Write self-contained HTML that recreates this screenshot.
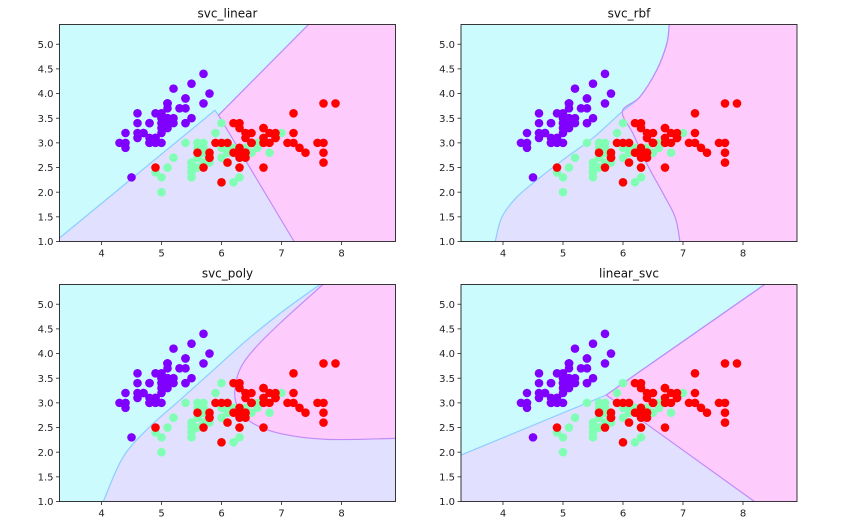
<!DOCTYPE html>
<html><head><meta charset="utf-8"><style>
html,body{margin:0;padding:0;background:#fff;}
svg{display:block;font-family:"DejaVu Sans","Liberation Sans",sans-serif;}
</style></head><body>
<svg id="fig" width="855" height="532" viewBox="0 0 855 532" xmlns="http://www.w3.org/2000/svg"></svg>
<script>
const setosa=[[5.1,3.5],[4.9,3.0],[4.7,3.2],[4.6,3.1],[5.0,3.6],[5.4,3.9],[4.6,3.4],[5.0,3.4],[4.4,2.9],[4.9,3.1],[5.4,3.7],[4.8,3.4],[4.8,3.0],[4.3,3.0],[5.8,4.0],[5.7,4.4],[5.4,3.9],[5.1,3.5],[5.7,3.8],[5.1,3.8],[5.4,3.4],[5.1,3.7],[4.6,3.6],[5.1,3.3],[4.8,3.4],[5.0,3.0],[5.0,3.4],[5.2,3.5],[5.2,3.4],[4.7,3.2],[4.8,3.1],[5.4,3.4],[5.2,4.1],[5.5,4.2],[4.9,3.1],[5.0,3.2],[5.5,3.5],[4.9,3.6],[4.4,3.0],[5.1,3.4],[5.0,3.5],[4.5,2.3],[4.4,3.2],[5.0,3.5],[5.1,3.8],[4.8,3.0],[5.1,3.8],[4.6,3.2],[5.3,3.7],[5.0,3.3]];
const versicolor=[[7.0,3.2],[6.4,3.2],[6.9,3.1],[5.5,2.3],[6.5,2.8],[5.7,2.8],[6.3,3.3],[4.9,2.4],[6.6,2.9],[5.2,2.7],[5.0,2.0],[5.9,3.0],[6.0,2.2],[6.1,2.9],[5.6,2.9],[6.7,3.1],[5.6,3.0],[5.8,2.7],[6.2,2.2],[5.6,2.5],[5.9,3.2],[6.1,2.8],[6.3,2.5],[6.1,2.8],[6.4,2.9],[6.6,3.0],[6.8,2.8],[6.7,3.0],[6.0,2.9],[5.7,2.6],[5.5,2.4],[5.5,2.4],[5.8,2.7],[6.0,2.7],[5.4,3.0],[6.0,3.4],[6.7,3.1],[6.3,2.3],[5.6,3.0],[5.5,2.5],[5.5,2.6],[6.1,3.0],[5.8,2.6],[5.0,2.3],[5.6,2.7],[5.7,3.0],[5.7,2.9],[6.2,2.9],[5.1,2.5],[5.7,2.8]];
const virginica=[[6.3,3.3],[5.8,2.7],[7.1,3.0],[6.3,2.9],[6.5,3.0],[7.6,3.0],[4.9,2.5],[7.3,2.9],[6.7,2.5],[7.2,3.6],[6.5,3.2],[6.4,2.7],[6.8,3.0],[5.7,2.5],[5.8,2.8],[6.4,3.2],[6.5,3.0],[7.7,3.8],[7.7,2.6],[6.0,2.2],[6.9,3.2],[5.6,2.8],[7.7,2.8],[6.3,2.7],[6.7,3.3],[7.2,3.2],[6.2,2.8],[6.1,3.0],[6.4,2.8],[7.2,3.0],[7.4,2.8],[7.9,3.8],[6.4,2.8],[6.3,2.8],[6.1,2.6],[7.7,3.0],[6.3,3.4],[6.4,3.1],[6.0,3.0],[6.9,3.1],[6.7,3.1],[6.9,3.1],[5.8,2.7],[6.8,3.2],[6.7,3.3],[6.7,3.0],[6.3,2.5],[6.5,3.0],[6.2,3.4],[5.9,3.0]];
const xTicks=[4,5,6,7,8];
const yTicks=[1.0,1.5,2.0,2.5,3.0,3.5,4.0,4.5,5.0];
const titles=["svc_linear","svc_rbf","svc_poly","linear_svc"];
const smoothFlags=[false,true,true,false];
const cyanEdges=[
 [[3.3,1.07],[5.89,3.66],[5.95,3.56],[7.45,5.4]],
 [[3.87,1.0],[3.98,1.49],[4.23,1.90],[4.62,2.30],[5.06,2.71],[5.51,3.11],[5.99,3.64],[6.28,3.93],[6.56,4.47],[6.73,5.01],[6.77,5.4]],
 [[4.03,1.0],[4.36,1.90],[4.80,2.51],[5.30,3.05],[5.86,3.66],[6.42,4.27],[6.97,4.81],[7.64,5.4]],
 [[3.3,1.94],[5.72,3.16],[8.36,5.4]]
];
const pinkEdges=[
 [[7.45,5.4],[5.95,3.56],[7.21,1.0]],
 [[6.77,5.4],[6.73,5.01],[6.56,4.47],[6.28,3.93],[5.99,3.64],[6.17,3.18],[6.40,2.57],[6.67,1.97],[6.87,1.49],[6.95,1.0]],
 [[7.69,5.4],[6.97,4.61],[6.53,4.07],[6.30,3.66],[6.22,3.19],[6.30,2.85],[6.53,2.58],[6.97,2.38],[7.75,2.26],[8.9,2.28]],
 [[8.36,5.4],[5.72,3.16],[8.19,1.0]]
];
const pinkClose=[[[8.9,1.0],[8.9,5.4]],[[8.9,1.0],[8.9,5.4]],[[8.9,5.4]],[[8.9,1.0],[8.9,5.4]]];
const XMIN=3.3,XMAX=8.9,YMIN=1.0,YMAX=5.4;
const panels=[[59.5,24.5],[461,24.5],[59.5,284.5],[461,284.5]];
const PW=336,PH=217;
const NS="http://www.w3.org/2000/svg";
const fig=document.getElementById('fig');
function mk(tag,attrs,parent){const e=document.createElementNS(NS,tag);for(const k in attrs)e.setAttribute(k,attrs[k]);parent.appendChild(e);return e;}
function curve(P,smooth){
 let d="M"+P[0][0].toFixed(1)+","+P[0][1].toFixed(1);
 if(!smooth){for(let k=1;k<P.length;k++)d+=" L"+P[k][0].toFixed(1)+","+P[k][1].toFixed(1);return d;}
 for(let k=0;k<P.length-1;k++){
  const p0=P[Math.max(k-1,0)],p1=P[k],p2=P[k+1],p3=P[Math.min(k+2,P.length-1)];
  const c1=[p1[0]+(p2[0]-p0[0])/6,p1[1]+(p2[1]-p0[1])/6];
  const c2=[p2[0]-(p3[0]-p1[0])/6,p2[1]-(p3[1]-p1[1])/6];
  d+=" C"+c1[0].toFixed(1)+","+c1[1].toFixed(1)+" "+c2[0].toFixed(1)+","+c2[1].toFixed(1)+" "+p2[0].toFixed(1)+","+p2[1].toFixed(1);
 }
 return d;
}
panels.forEach((p,i)=>{
 const [x0,y0]=p;
 const sx=v=>x0+(v-XMIN)/(XMAX-XMIN)*PW;
 const sy=v=>y0+PH-(v-YMIN)/(YMAX-YMIN)*PH;
 const px=a=>a.map(q=>[sx(q[0]),sy(q[1])]);
 const sm=smoothFlags[i];
 const g=mk('g',{},fig);
 
 
 const bg=mk('rect',{x:x0,y:y0,width:PW,height:PH,fill:'#e1e1ff'},g);
 
 
 const cEdge=curve(px(cyanEdges[i]),sm);
 const pEdge=curve(px(pinkEdges[i]),sm);
 const cClose=px([[XMIN,YMAX],[XMIN,YMIN]]).map(q=>" L"+q[0]+","+q[1]).join("")+" Z";
 const pCl=px(pinkClose[i]).map(q=>" L"+q[0]+","+q[1]).join("")+" Z";
 const cy=mk('path',{d:cEdge+cClose,fill:'#ccfbfe'},g);
 
 
 const pk=mk('path',{d:pEdge+pCl,fill:'#fdccfd'},g);
 
 
 const cl=mk('path',{d:cEdge,fill:'none',stroke:'#8ccdff','stroke-width':1.2},g);
 
 
 const pl=mk('path',{d:pEdge,fill:'none',stroke:'#c28af6','stroke-width':1.2},g);
 
 
 [[setosa,'#8000ff','point-setosa'],[versicolor,'#80feb3','point-versicolor'],[virginica,'#ff0000','point-virginica']].forEach(([arr,c,n])=>{
  arr.forEach(d=>{
   const el=mk('circle',{cx:sx(d[0]),cy:sy(d[1]),r:4.3,fill:c},g);
   
   
  });
 });
 const fr=mk('rect',{x:x0,y:y0,width:PW,height:PH,fill:'none',stroke:'#222','stroke-width':0.9},g);
 
 
 xTicks.forEach(t=>{
  const X=sx(t);
  mk('line',{x1:X,x2:X,y1:y0+PH,y2:y0+PH+3.5,stroke:'#222','stroke-width':0.8},g);
  const tx=mk('text',{x:X,y:y0+PH+15,'font-size':10,'text-anchor':'middle',fill:'#222'},g);
  tx.textContent=t;
  
  
 });
 yTicks.forEach(t=>{
  const Y=sy(t);
  mk('line',{x1:x0-3.5,x2:x0,y1:Y,y2:Y,stroke:'#222','stroke-width':0.8},g);
  const ty=mk('text',{x:x0-6,y:Y+3.6,'font-size':10,'text-anchor':'end',fill:'#222'},g);
  ty.textContent=t.toFixed(1);
  
  
 });
 const tt=mk('text',{x:x0+PW/2,y:y0-7,'font-size':12,'text-anchor':'middle',fill:'#111'},g);
 tt.textContent=titles[i];
 
 
});
</script>
</body></html>
